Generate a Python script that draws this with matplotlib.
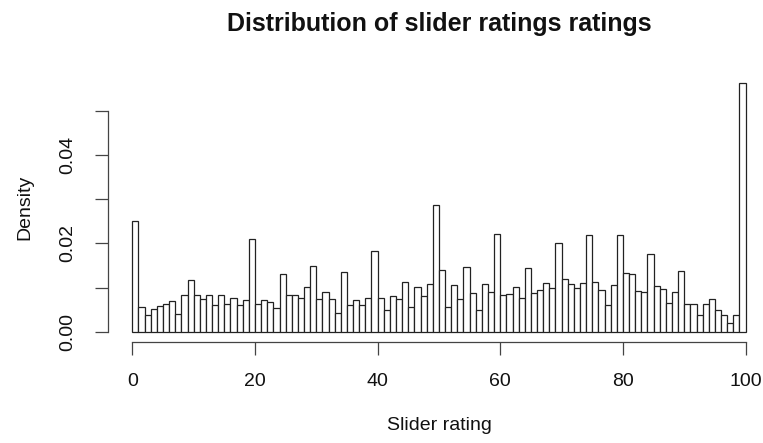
#histogram of slider ratings (density scale, 1-point bins)

import numpy as np
import matplotlib
matplotlib.use("Agg")
import matplotlib.pyplot as plt

# bin edges 0..100, one bar per unit
bin_edges = list(range(0, 101))

# density per bin
density = [
    0.0251, 0.0057, 0.0037, 0.0052, 0.0059, 0.0062, 0.0070, 0.0040, 0.0082, 0.0116,
    0.0082, 0.0073, 0.0082, 0.0060, 0.0082, 0.0063, 0.0076, 0.0060, 0.0072, 0.0210,
    0.0063, 0.0072, 0.0067, 0.0054, 0.0131, 0.0082, 0.0082, 0.0077, 0.0101, 0.0149,
    0.0073, 0.0090, 0.0073, 0.0042, 0.0135, 0.0061, 0.0071, 0.0061, 0.0076, 0.0182,
    0.0076, 0.0048, 0.0080, 0.0073, 0.0112, 0.0057, 0.0101, 0.0080, 0.0109, 0.0286,
    0.0139, 0.0057, 0.0106, 0.0073, 0.0146, 0.0088, 0.0048, 0.0109, 0.0091, 0.0222,
    0.0082, 0.0085, 0.0101, 0.0077, 0.0144, 0.0088, 0.0094, 0.0111, 0.0099, 0.0201,
    0.0120, 0.0109, 0.0099, 0.0111, 0.0220, 0.0113, 0.0094, 0.0061, 0.0106, 0.0220,
    0.0134, 0.0130, 0.0093, 0.0091, 0.0175, 0.0104, 0.0097, 0.0066, 0.0091, 0.0137,
    0.0063, 0.0063, 0.0038, 0.0063, 0.0075, 0.0048, 0.0038, 0.0019, 0.0038, 0.0563,
]

x_ticks = [0, 20, 40, 60, 80, 100]
y_ticks = [0.00, 0.01, 0.02, 0.03, 0.04, 0.05]
y_labels = ["0.00", "", "0.02", "", "0.04", ""]

plt.rcParams['font.family'] = ['Liberation Sans', 'DejaVu Sans']

fig = plt.figure(figsize=(7.63, 4.43), dpi=100)
ax = fig.add_axes([0.1413, 0.2289, 0.868, 0.6056])

ax.bar(bin_edges[:-1], density, width=1, align='edge',
       color='white', edgecolor='#222222', linewidth=0.9)

# R style axis ranges: 4% padding
ymax = max(density)
ax.set_xlim(-4, 104)
ax.set_ylim(-0.04 * ymax, 1.04 * ymax)

for side in ['top', 'right']:
    ax.spines[side].set_visible(False)
ax.spines['bottom'].set_bounds(0, 100)
ax.spines['left'].set_bounds(0, 0.05)
for side in ['bottom', 'left']:
    ax.spines[side].set_color('#444444')
    ax.spines[side].set_linewidth(0.9)

ax.set_xticks(x_ticks)
ax.set_xticklabels([str(t) for t in x_ticks])
ax.set_yticks(y_ticks)
ax.set_yticklabels(y_labels, rotation=90, va='center')
ax.tick_params(axis='both', direction='out', length=9.5, width=0.9,
               color='#444444', labelsize=14, pad=13, labelcolor='#111111')

ax.set_xlabel('Slider rating', fontsize=14, color='#111111')
ax.xaxis.set_label_coords(0.5, -0.3146)
ax.xaxis.label.set_va('center')
ax.set_ylabel('Density', fontsize=14, color='#111111')
ax.yaxis.set_label_coords(-0.125, 0.5)
ax.yaxis.label.set_va('center')

ax.set_title('Distribution of slider ratings ratings', fontsize=18,
             fontweight='bold', pad=30.5, color='#111111')

fig.savefig('out.png', dpi=100)
